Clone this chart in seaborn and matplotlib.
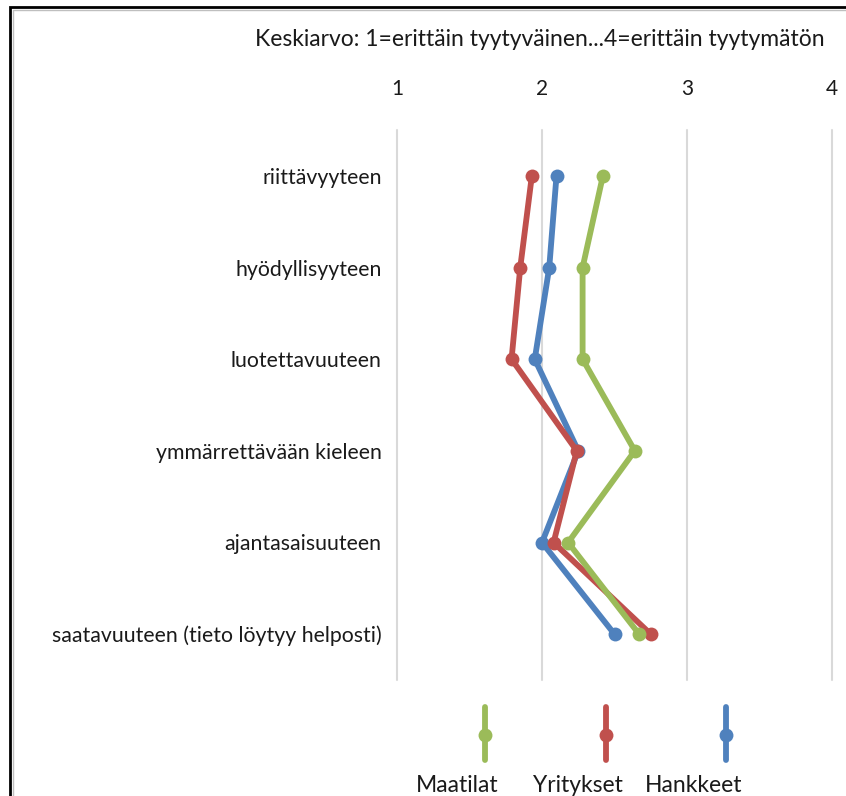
import pandas as pd
import seaborn as sns
import matplotlib.pyplot as plt
from matplotlib.lines import Line2D

categories = ["riittävyyteen", "hyödyllisyyteen", "luotettavuuteen",
              "ymmärrettävään kieleen", "ajantasaisuuteen",
              "saatavuuteen (tieto löytyy helposti)"]
maatilat = [2.42, 2.28, 2.28, 2.64, 2.18, 2.67]
yritykset = [1.93, 1.85, 1.79, 2.24, 2.08, 2.75]
hankkeet = [2.10, 2.05, 1.95, 2.25, 2.00, 2.50]
series_names = ["Maatilat", "Yritykset", "Hankkeet"]
colors = {"Maatilat": "#9BBB59", "Yritykset": "#C0504D", "Hankkeet": "#4F81BD"}
x_ticks = [1, 2, 3, 4]
title = "Keskiarvo: 1=erittäin tyytyväinen...4=erittäin tyytymätön"

rows = []
for name, vals in zip(series_names, [maatilat, yritykset, hankkeet]):
    for i, v in enumerate(vals):
        rows.append({"series": name, "pos": i, "value": v})
df = pd.DataFrame(rows)

sns.set_theme(style="white")
plt.rcParams['font.family'] = ['Lato', 'DejaVu Sans']

fig = plt.figure(figsize=(8.46, 7.96), dpi=100)
ax = fig.add_axes([397 / 846, 1 - 680 / 796, 435 / 846, 550 / 796])

sns.lineplot(data=df, x="value", y="pos", hue="series", orient="y", sort=False,
             hue_order=["Hankkeet", "Yritykset", "Maatilat"], palette=colors,
             marker="o", markersize=10, markeredgewidth=0, linewidth=4.2,
             legend=False, ax=ax)

ax.set_xlim(1, 4)
ax.set_ylim(5.5, -0.5)
ax.set_xticks(x_ticks)
ax.set_yticks(range(len(categories)))
ax.set_yticklabels(categories)
ax.xaxis.tick_top()
ax.tick_params(axis="x", length=0, pad=22, labelsize=15, colors="#1a1a1a")
ax.tick_params(axis="y", length=0, pad=11, labelsize=15.3, colors="#1a1a1a")
ax.set_xlabel("")
ax.set_ylabel("")
for s in ax.spines.values():
    s.set_visible(False)
ax.grid(True, axis="x", color="#D9D9D9", linewidth=1.5, clip_on=False)
ax.set_axisbelow(True)

fig.text(540 / 846, 1 - 40 / 796, title, ha="center", va="center",
         fontsize=16.5, color="#1a1a1a")

# legend: vertical line with marker, label below
leg_handle_x = [485, 605.5, 726]
leg_label_x = [457.5, 577.5, 693.5]
for name, hx, lx in zip(series_names, leg_handle_x, leg_label_x):
    c = colors[name]
    fig.add_artist(Line2D([hx / 846, hx / 846], [1 - 707 / 796, 1 - 760 / 796],
                          color=c, linewidth=4.2, solid_capstyle="round"))
    fig.add_artist(Line2D([hx / 846], [1 - 735 / 796], marker="o", markersize=10,
                          markeredgewidth=0, color=c))
    fig.text(lx / 846, 4 / 796, name, ha="center", va="baseline",
             fontsize=16.5, color="#1a1a1a")

# frame border of the original picture
fig.add_artist(Line2D([10 / 846, 10 / 846, 1], [0, 1 - 7 / 796, 1 - 7 / 796],
                      color="black", linewidth=2, solid_joinstyle="miter"))
fig.add_artist(Line2D([12.5 / 846, 12.5 / 846, 1], [0, 1 - 9.5 / 796, 1 - 9.5 / 796],
                      color="#BFBFBF", linewidth=1))

fig.savefig("out.png", dpi=100)
